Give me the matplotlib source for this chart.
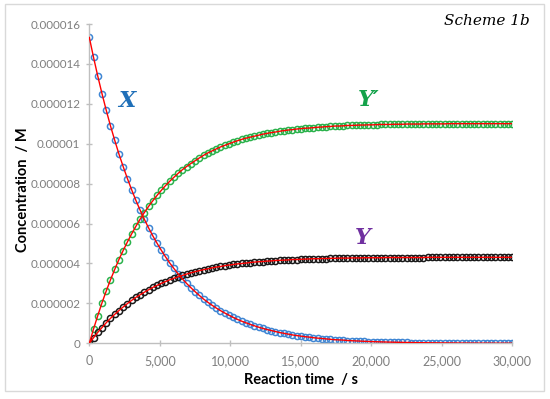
import matplotlib
matplotlib.use("Agg")
import matplotlib.pyplot as plt
from matplotlib.patches import Rectangle

# reaction time in s, one sample every 300 s
time_s = [300 * i for i in range(101)]

# concentrations, in units of 1e-6 M
x_conc = [15.33, 14.33, 13.39, 12.51, 11.68, 10.90, 10.18, 9.49, 8.86, 8.26,
          7.70, 7.17, 6.68, 6.22, 5.79, 5.39, 5.02, 4.67, 4.34, 4.03,
          3.75, 3.48, 3.23, 3.00, 2.79, 2.59, 2.40, 2.22, 2.06, 1.91,
          1.77, 1.64, 1.52, 1.41, 1.30, 1.20, 1.11, 1.03, 0.95, 0.88,
          0.81, 0.75, 0.69, 0.64, 0.59, 0.54, 0.50, 0.46, 0.42, 0.39,
          0.36, 0.33, 0.31, 0.28, 0.26, 0.24, 0.22, 0.20, 0.18, 0.17,
          0.16, 0.14, 0.13, 0.12, 0.11, 0.10, 0.09, 0.085, 0.078, 0.071,
          0.065, 0.060, 0.055, 0.050, 0.046, 0.042, 0.038, 0.035, 0.032, 0.029,
          0.026, 0.024, 0.022, 0.020, 0.018, 0.016, 0.015, 0.013, 0.012, 0.011,
          0.010, 0.009, 0.008, 0.007, 0.007, 0.006, 0.005, 0.005, 0.004, 0.004,
          0.004]
yp_conc = [0.00, 0.72, 1.39, 2.03, 2.62, 3.18, 3.70, 4.20, 4.65, 5.08,
           5.48, 5.86, 6.22, 6.55, 6.86, 7.14, 7.41, 7.66, 7.90, 8.12,
           8.32, 8.52, 8.70, 8.86, 9.01, 9.15, 9.29, 9.42, 9.54, 9.64,
           9.74, 9.84, 9.92, 10.00, 10.08, 10.15, 10.22, 10.28, 10.33, 10.38,
           10.43, 10.48, 10.52, 10.56, 10.59, 10.63, 10.66, 10.69, 10.71, 10.74,
           10.76, 10.78, 10.79, 10.81, 10.83, 10.84, 10.86, 10.87, 10.89, 10.89,
           10.90, 10.92, 10.92, 10.93, 10.94, 10.94, 10.95, 10.95, 10.96, 10.97,
           10.97, 10.97, 10.98, 10.98, 10.98, 10.99, 10.99, 10.99, 10.99, 11.00,
           11.00, 11.00, 11.00, 11.00, 11.00, 11.01, 11.01, 11.01, 11.01, 11.01,
           11.01, 11.01, 11.01, 11.01, 11.01, 11.01, 11.01, 11.01, 11.01, 11.01,
           11.01]
y_conc = [0.00, 0.28, 0.55, 0.79, 1.03, 1.25, 1.45, 1.64, 1.82, 1.99,
          2.15, 2.30, 2.43, 2.56, 2.68, 2.80, 2.90, 3.00, 3.09, 3.18,
          3.26, 3.33, 3.40, 3.47, 3.53, 3.59, 3.64, 3.69, 3.73, 3.78,
          3.82, 3.85, 3.89, 3.92, 3.95, 3.98, 4.00, 4.02, 4.05, 4.07,
          4.09, 4.10, 4.12, 4.13, 4.15, 4.16, 4.17, 4.18, 4.20, 4.20,
          4.21, 4.22, 4.23, 4.24, 4.24, 4.25, 4.25, 4.26, 4.26, 4.27,
          4.27, 4.27, 4.28, 4.28, 4.28, 4.29, 4.29, 4.29, 4.29, 4.29,
          4.30, 4.30, 4.30, 4.30, 4.30, 4.30, 4.30, 4.30, 4.30, 4.30,
          4.31, 4.31, 4.31, 4.31, 4.31, 4.31, 4.31, 4.31, 4.31, 4.31,
          4.31, 4.31, 4.31, 4.31, 4.31, 4.31, 4.31, 4.31, 4.31, 4.31,
          4.31]

x_ticks = [0, 5000, 10000, 15000, 20000, 25000, 30000]
x_tick_labels = ["0", "5,000", "10,000", "15,000", "20,000", "25,000", "30,000"]
y_ticks = [0, 2e-6, 4e-6, 6e-6, 8e-6, 1e-5, 1.2e-5, 1.4e-5, 1.6e-5]
y_tick_labels = ["0", "0.000002", "0.000004", "0.000006", "0.000008",
                 "0.00001", "0.000012", "0.000014", "0.000016"]

plt.rcParams['font.family'] = ['Lato', 'DejaVu Sans']

fig = plt.figure(figsize=(5.5, 3.99), dpi=100)
ax = fig.add_axes([0.1624, 0.1396, 0.769, 0.800])

series = [(x_conc, '#3f86d4'), (yp_conc, '#2bb24c'), (y_conc, '#1a1a1a')]
for vals, col in series:
    conc = [v * 1e-6 for v in vals]
    ax.plot(time_s, conc, linestyle='none', marker='o', markersize=4.4,
            markerfacecolor='none', markeredgecolor=col, markeredgewidth=1.1, zorder=2)
    ax.plot(time_s, conc, color='#ff0000', lw=1.0, zorder=3)

ax.set_xlim(0, 30000)
ax.set_ylim(0, 1.6e-5)
ax.set_xticks(x_ticks)
ax.set_xticklabels(x_tick_labels)
ax.set_yticks(y_ticks)
ax.set_yticklabels(y_tick_labels)

for s in ['top', 'right']:
    ax.spines[s].set_visible(False)
for s in ['left', 'bottom']:
    ax.spines[s].set_color('#bfbfbf')
    ax.spines[s].set_linewidth(1.0)
ax.tick_params(axis='both', direction='inout', length=5, width=1.0,
               color='#bfbfbf', labelcolor='#7f7f7f', labelsize=9)
ax.tick_params(axis='y', labelsize=8.4, pad=4)
ax.tick_params(axis='x', pad=6)

ax.set_xlabel("Reaction time  / s", fontsize=10.5, fontweight='bold', labelpad=4)
ax.set_ylabel("Concentration  / M", fontsize=10.5, fontweight='bold')
ax.yaxis.set_label_coords(-0.14, 0.48)

lab = dict(fontsize=16, fontweight='bold', style='italic',
           family=['DejaVu Serif'], ha='center', va='center')
ax.text(2680, 12.15e-6, "X", color='#1f6fb8', **lab)
ax.text(19800, 12.2e-6, "Y\u2032", color='#13a24a', **lab)
ax.text(19400, 5.3e-6, "Y", color='#7030a0', **lab)

fig.text(0.885, 0.948, "Scheme 1b", fontsize=11, style='italic',
         family=['DejaVu Serif'], ha='center', va='center')

fig.patches.append(Rectangle((5 / 550, 1 - 391 / 399), 539 / 550, 387 / 399,
                             transform=fig.transFigure, fill=False,
                             edgecolor='#d9d9d9', lw=1.0))

fig.savefig("out.png", dpi=100)
